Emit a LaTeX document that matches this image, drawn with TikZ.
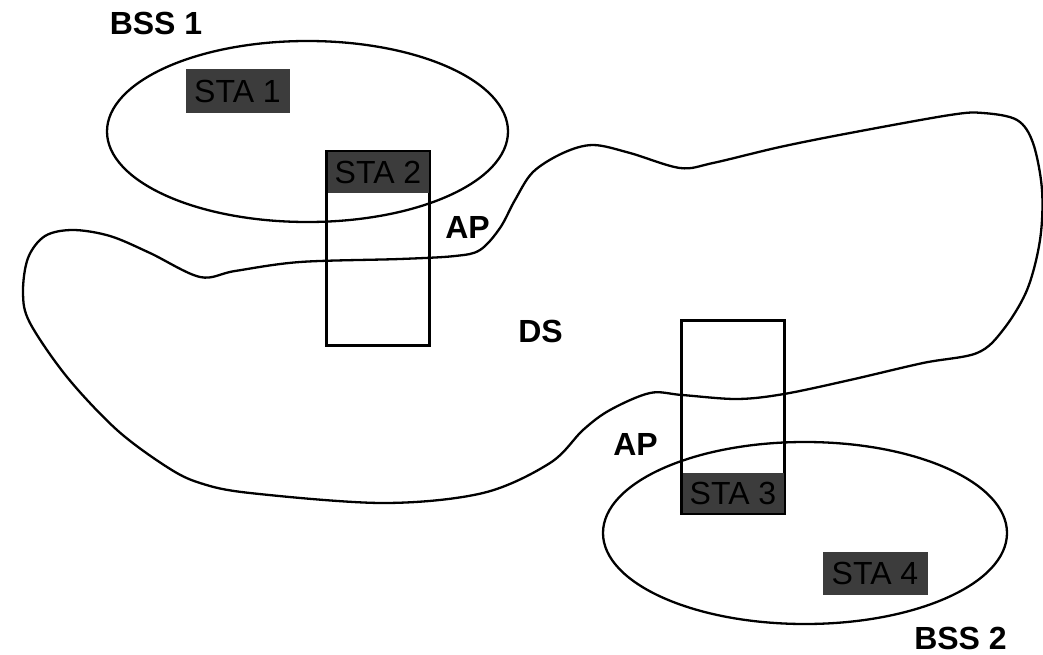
\documentclass[tikz,border=0pt]{standalone}
\usepackage{fontspec}
\setmainfont{Liberation Sans}
\usetikzlibrary{shapes.geometric}
\definecolor{stafill}{RGB}{60,60,60}
\tikzset{
  outline/.style={draw=black, line width=2.3pt},
  bss/.style={outline, ellipse, inner sep=0pt},
  apbox/.style={outline, rectangle, inner sep=0pt, minimum width=102pt},
  stabox/.style={rectangle, fill=stafill, draw=stafill, line width=1pt, inner sep=0pt,
     text=black, font=\fontsize{32}{32}\selectfont},
  lbl/.style={inner sep=0pt, anchor=base, font=\fontsize{32}{32}\selectfont\bfseries},
}
\begin{document}
\begin{tikzpicture}[x=1pt,y=-1pt]
\useasboundingbox (0,0) rectangle (1043,655);
\fill[white] (0,0) rectangle (1043,655);

% distribution system outline
\draw[line width=2.3pt, line join=round] plot[smooth cycle, tension=0.55] coordinates {
 (23,293) (28,258) (45,236) (73,230) (110,236) (150,253) (200,277) (235,271) (300,262)
 (400,259) (455,256) (480,250) (500,228) (515,200) (533,172) (563,153) (593,145)
 (630,153) (680,168) (713,163) (780,147) (850,133) (950,115) (983,113) (1017,120)
 (1033,143) (1042,190) (1040,240) (1027,290) (1003,330) (977,353) (923,363)
 (850,380) (784,394) (737,399) (682,395) (650,393) (610,410) (583,430) (550,463)
 (483,493) (383,503) (250,493) (200,483) (167,467) (117,430) (67,377) (30,323)};

% BSS ellipses
\node[bss, minimum width=401pt, minimum height=181pt] (bss1) at (307.5,131.5) {};
\node[bss, minimum width=404pt, minimum height=182pt] (bss2) at (805,533) {};

% access points
\node[apbox, minimum height=193pt] (ap1) at (378,248.5) {};
\node[apbox, minimum height=192pt] (ap2) at (733,417) {};

% stations
\node[stabox, minimum width=103pt, minimum height=43pt] (sta1) at (237.5,91.5) {STA 1};
\node[stabox, minimum width=100pt, minimum height=40pt] (sta2) at (378,172.5) {STA 2};
\node[stabox, minimum width=100pt, minimum height=39pt] (sta3) at (733,493) {STA 3};
\node[stabox, minimum width=104pt, minimum height=42pt] (sta4) at (875,573) {STA 4};
\draw[line width=2.3pt] (ap1.north west) rectangle (ap1.south east);
\draw[line width=2.3pt] (ap2.north west) rectangle (ap2.south east);

% labels
\node[lbl] (lbss1) at (156,35) {BSS 1};
\node[lbl] (lbss2) at (960.5,649) {BSS 2};
\node[lbl] (lap1) at (467.5,238) {AP};
\node[lbl] (lap2) at (635.5,455) {AP};
\node[lbl] (lds) at (540.5,342) {DS};
\end{tikzpicture}
\end{document}
